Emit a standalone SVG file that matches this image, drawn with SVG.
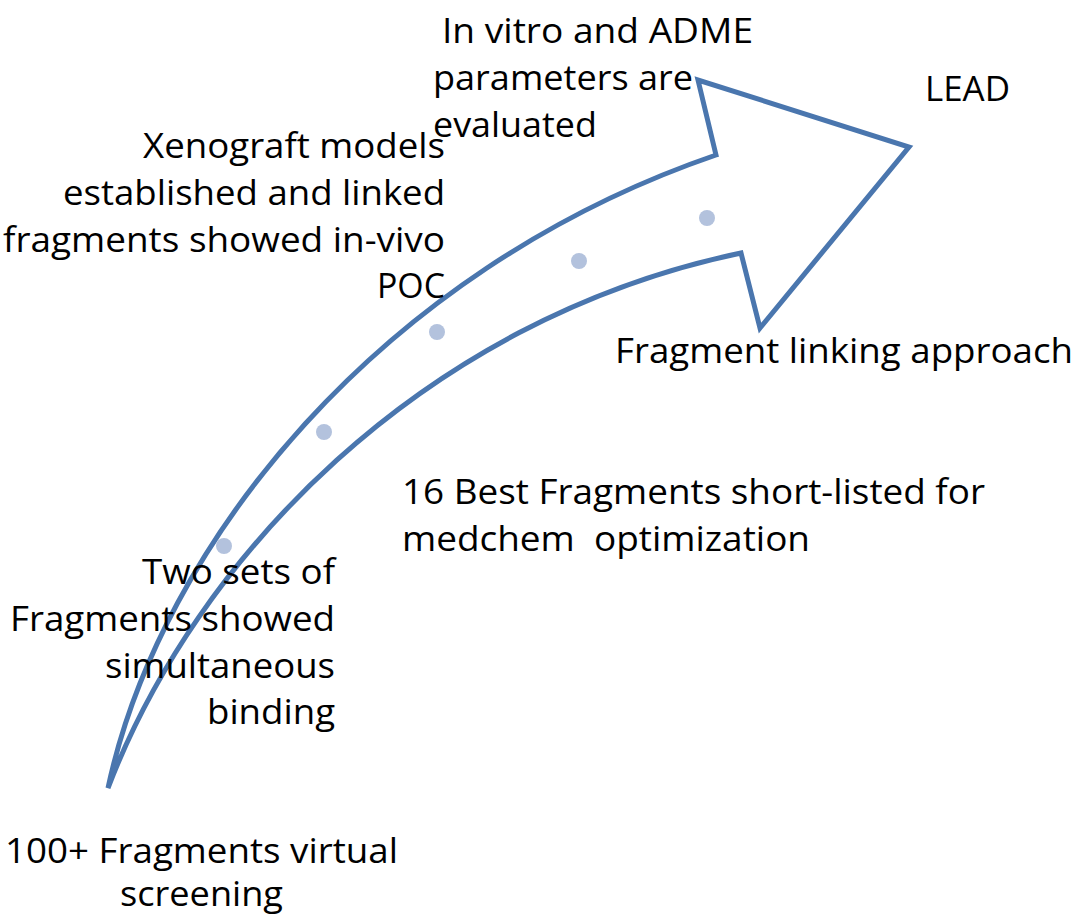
<svg xmlns="http://www.w3.org/2000/svg" width="1080" height="916" viewBox="0 0 1080 916">
<style>
.t{font-family:"Open Sans","Liberation Sans",sans-serif;font-size:35px;fill:#000}
.arrow{fill:none;stroke:#4a76ae;stroke-width:5;stroke-linejoin:miter}
.dot{fill:#b3c2dd}
</style>
<rect width="1080" height="916" fill="#fff"/>
<g id="connectors">
<path class="arrow" d="M108,788 C160,545 380,270 716,155 L698,80 L909,147 L760,328 L741,253 C420,320 195,560 108,788 Z"/>
</g>
<g id="dots">
<circle class="dot" cx="224" cy="546" r="8"/>
<circle class="dot" cx="324" cy="432" r="8"/>
<circle class="dot" cx="437" cy="332" r="8"/>
<circle class="dot" cx="579" cy="261" r="8"/>
<circle class="dot" cx="707" cy="218" r="8"/>
</g>
<g id="node-invitro">
<text class="t" x="442" y="43" textLength="311" lengthAdjust="spacingAndGlyphs">In vitro and ADME</text>
<text class="t" x="433" y="90" textLength="260" lengthAdjust="spacingAndGlyphs">parameters are</text>
<text class="t" x="433" y="137" textLength="164" lengthAdjust="spacingAndGlyphs">evaluated</text>
</g>
<g id="node-lead">
<text class="t" x="925" y="101" textLength="85" lengthAdjust="spacingAndGlyphs">LEAD</text>
</g>
<g id="node-xenograft">
<text class="t" x="143" y="158" textLength="302" lengthAdjust="spacingAndGlyphs">Xenograft models</text>
<text class="t" x="63" y="205" textLength="382" lengthAdjust="spacingAndGlyphs">established and linked</text>
<text class="t" x="3" y="252" textLength="442" lengthAdjust="spacingAndGlyphs">fragments showed in-vivo</text>
<text class="t" x="377" y="298" textLength="68" lengthAdjust="spacingAndGlyphs">POC</text>
</g>
<g id="node-linking">
<text class="t" x="615" y="363" textLength="458" lengthAdjust="spacingAndGlyphs">Fragment linking approach</text>
</g>
<g id="node-best16">
<text class="t" x="402" y="504" textLength="583" lengthAdjust="spacingAndGlyphs">16 Best Fragments short-listed for</text>
<text class="t" x="402" y="551" textLength="408" lengthAdjust="spacingAndGlyphs" xml:space="preserve">medchem  optimization</text>
</g>
<g id="node-twosets">
<text class="t" x="142" y="584" textLength="193" lengthAdjust="spacingAndGlyphs">Two sets of</text>
<text class="t" x="10" y="631" textLength="325" lengthAdjust="spacingAndGlyphs">Fragments showed</text>
<text class="t" x="105" y="678" textLength="230" lengthAdjust="spacingAndGlyphs">simultaneous</text>
<text class="t" x="207" y="724" textLength="128" lengthAdjust="spacingAndGlyphs">binding</text>
</g>
<g id="node-screening">
<text class="t" x="5" y="863" textLength="393" lengthAdjust="spacingAndGlyphs">100+ Fragments virtual</text>
<text class="t" x="120" y="906" textLength="163" lengthAdjust="spacingAndGlyphs">screening</text>
</g>
</svg>
